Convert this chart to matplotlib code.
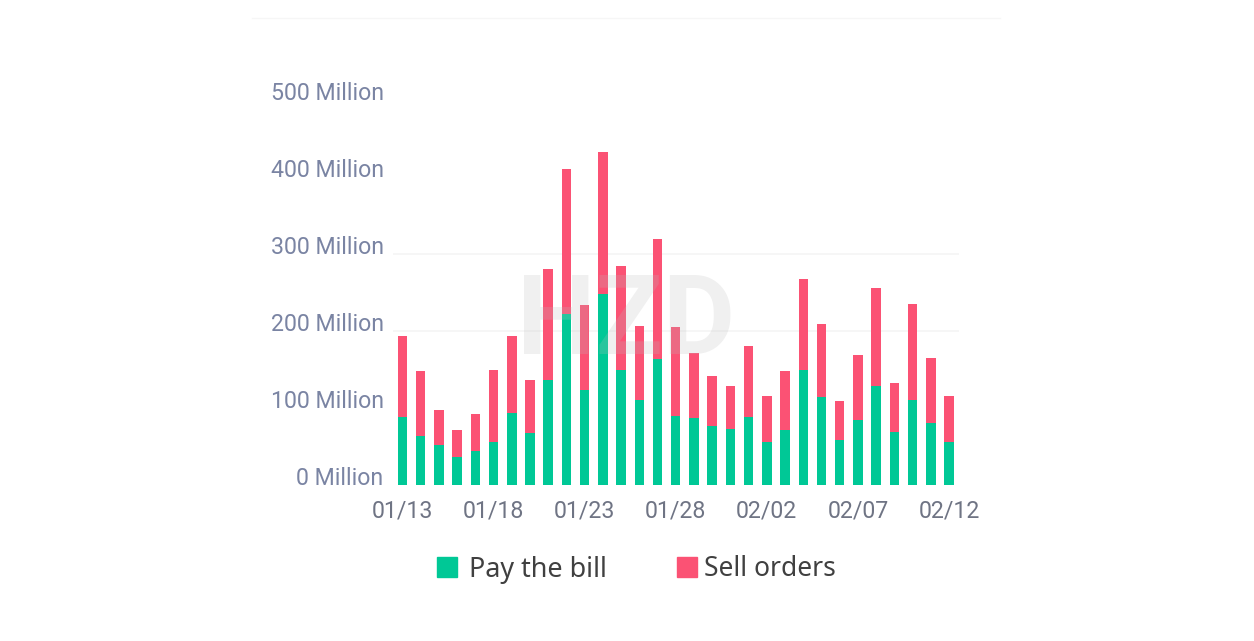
import numpy as np
import matplotlib
matplotlib.use('Agg')
import matplotlib.pyplot as plt
from matplotlib.patches import Rectangle
from matplotlib.lines import Line2D

# Valori (milioni)
dates = ['01/13', '01/14', '01/15', '01/16', '01/17', '01/18', '01/19', '01/20',
         '01/21', '01/22', '01/23', '01/24', '01/25', '01/26', '01/27', '01/28',
         '01/29', '01/30', '01/31', '02/01', '02/02', '02/03', '02/04', '02/05',
         '02/06', '02/07', '02/08', '02/09', '02/10', '02/11', '02/12']
pay_bill = [88, 63, 52, 36, 44, 56, 93, 67, 137, 222, 123, 248, 150, 110, 164, 90,
            87, 77, 73, 88, 56, 72, 150, 114, 59, 85, 129, 69, 111, 81, 56]
sell_orders = [105, 85, 46, 35, 48, 94, 100, 69, 144, 189, 111, 184, 135, 96, 156, 115,
               85, 64, 56, 92, 59, 76, 118, 95, 50, 84, 127, 64, 124, 84, 59]
y_ticks = [0, 100, 200, 300, 400, 500]
y_labels = ['0 Million', '100 Million', '200 Million', '300 Million', '400 Million', '500 Million']

W, H = 1254, 641
GREEN = '#00c896'
RED = '#fb5274'

plt.rcParams['font.family'] = ['Roboto', 'DejaVu Sans']

fig = plt.figure(figsize=(W / 100, H / 100), dpi=100)
ax = fig.add_axes([393 / W, 1 - 485 / H, 565.5 / W, 385 / H])

x = np.arange(len(dates))
ax.bar(x, pay_bill, width=0.52, color=GREEN, zorder=2)
ax.bar(x, sell_orders, width=0.52, bottom=pay_bill, color=RED, zorder=2)

ax.set_xlim(-0.52, 30.52)
ax.set_ylim(0, 500)

ax.set_yticks(y_ticks)
ax.set_yticklabels(y_labels, va='baseline', color='#7a84a3', fontsize=16.7)
ax.set_xticks(x[::5])
ax.set_xticklabels(dates[::5], color='#6f7484', fontsize=16.7)
ax.tick_params(axis='both', length=0)
ax.tick_params(axis='y', pad=6.8)
ax.tick_params(axis='x', pad=10.7)

# Griglia molto chiara, si vede solo a 200 e 300
ax.grid(axis='y', color='#f5f5f5', linewidth=1.2, zorder=0)
for tick, val in zip(ax.yaxis.get_major_ticks(), y_ticks):
    tick.gridline.set_visible(val in (200, 300))
for s in ax.spines.values():
    s.set_visible(False)

# Filigrana
fig.text(626 / W, 1 - 324 / H, 'HZD', fontsize=80, fontweight='bold', color='#bbbbbb',
         alpha=0.22, ha='center', va='center', family=['Roboto', 'DejaVu Sans'], zorder=5)

# Linea in alto
fig.add_artist(Line2D([252 / W, 1000 / W], [1 - 17.5 / H, 1 - 17.5 / H], color='#f6f6f6', linewidth=1))

# Legenda
fig.add_artist(Rectangle((437 / W, 1 - 577 / H), 20 / W, 20 / H, color=GREEN, transform=fig.transFigure))
fig.add_artist(Rectangle((677 / W, 1 - 577 / H), 20 / W, 20 / H, color=RED, transform=fig.transFigure))
fig.text(469 / W, 1 - 576.5 / H, 'Pay the bill', fontsize=19.4, color='#404040', va='baseline',
         family=['Noto Sans', 'DejaVu Sans'])
fig.text(704 / W, 1 - 576.5 / H, 'Sell orders', fontsize=19.0, color='#404040', va='baseline',
         family=['Noto Sans', 'DejaVu Sans'])

fig.savefig('out.png', dpi=100)
